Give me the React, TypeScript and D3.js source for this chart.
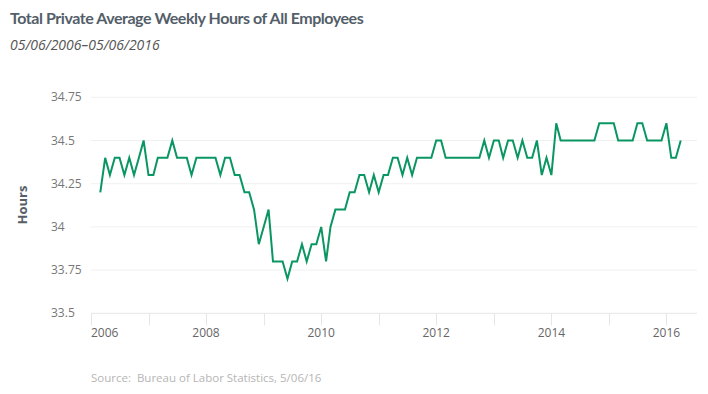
import * as d3 from "d3";

// monthly values, Mar 2006 – Apr 2016
const START = { year: 2006, month: 2 }; // March (0-based)
const hours2006 = [34.2, 34.4, 34.3, 34.4, 34.4, 34.3, 34.4, 34.3, 34.4, 34.5];
const hours2007 = [34.3, 34.3, 34.4, 34.4, 34.4, 34.5, 34.4, 34.4, 34.4, 34.3, 34.4, 34.4];
const hours2008 = [34.4, 34.4, 34.4, 34.3, 34.4, 34.4, 34.3, 34.3, 34.2, 34.2, 34.1, 33.9];
const hours2009 = [34.0, 34.1, 33.8, 33.8, 33.8, 33.7, 33.8, 33.8, 33.9, 33.8, 33.9, 33.9];
const hours2010 = [34.0, 33.8, 34.0, 34.1, 34.1, 34.1, 34.2, 34.2, 34.3, 34.3, 34.2, 34.3];
const hours2011 = [34.2, 34.3, 34.3, 34.4, 34.4, 34.3, 34.4, 34.3, 34.4, 34.4, 34.4, 34.4];
const hours2012 = [34.5, 34.5, 34.4, 34.4, 34.4, 34.4, 34.4, 34.4, 34.4, 34.4, 34.5, 34.4];
const hours2013 = [34.5, 34.5, 34.4, 34.5, 34.5, 34.4, 34.5, 34.4, 34.4, 34.5, 34.3, 34.4];
const hours2014 = [34.3, 34.6, 34.5, 34.5, 34.5, 34.5, 34.5, 34.5, 34.5, 34.5, 34.6, 34.6];
const hours2015 = [34.6, 34.6, 34.5, 34.5, 34.5, 34.5, 34.6, 34.6, 34.5, 34.5, 34.5, 34.5];
const hours2016 = [34.6, 34.4, 34.4, 34.5];

const yTicks = [33.5, 33.75, 34, 34.25, 34.5, 34.75];
const xTickYears = [2006, 2007, 2008, 2009, 2010, 2011, 2012, 2013, 2014, 2015, 2016];
const xLabelYears = [2006, 2008, 2010, 2012, 2014, 2016];

const TITLE = "Total Private Average Weekly Hours of All Employees";
const SUBTITLE = "05/06/2006–05/06/2016";
const SOURCE = "Source:  Bureau of Labor Statistics, 5/06/16";

const W = 708;
const H = 394;
const LINE = "#0a9663";

const allHours = [
  ...hours2006, ...hours2007, ...hours2008, ...hours2009, ...hours2010, ...hours2011,
  ...hours2012, ...hours2013, ...hours2014, ...hours2015, ...hours2016,
];
const data = allHours.map((v, i) => ({ date: new Date(START.year, START.month + i, 1), value: v }));

export default function App() {
  const plotLeft = 91;
  const plotRight = 697;
  const x = d3.scaleTime()
    .domain([new Date(2006, 0, 1), new Date(2016, 0, 1)])
    .range([plotLeft, 666.4]);
  const y = d3.scaleLinear().domain([33.5, 34.75]).range([313.3, 97.3]);

  const line = d3.line<{ date: Date; value: number }>()
    .x(d => x(d.date))
    .y(d => y(d.value));

  const fmt = (v: number) => String(v);
  const baseY = y(33.5);
  const font = "'Open Sans', sans-serif";

  return (
    <div>
      <style>{`body{margin:0}`}</style>
      <svg width={W} height={H} style={{ display: "block", background: "#fff" }}>
        <text x={10} y={24} fontFamily="Lato, sans-serif" fontWeight={700} fontSize={16}
          fill="#535e69" letterSpacing={-0.45}>{TITLE}</text>
        <text x={10} y={50} fontFamily={font} fontStyle="italic" fontSize={14}
          fill="#555">{SUBTITLE}</text>

        {/* grid */}
        {yTicks.map(t => (
          <g key={t}>
            <line x1={plotLeft} x2={plotRight} y1={y(t)} y2={y(t)}
              stroke={t === 33.5 ? "#e6e6e6" : "#f0f0f0"} strokeWidth={1} />
            <text x={51} y={y(t) + 4} fontFamily={font} fontSize={12} fill="#777">{fmt(t)}</text>
          </g>
        ))}

        {/* x axis ticks */}
        {xTickYears.map(yr => {
          const px = Math.round(x(new Date(yr, 0, 1))) + 0.5;
          return <line key={yr} x1={px} x2={px} y1={baseY} y2={baseY + 12} stroke="#e6e6e6" />;
        })}
        {xLabelYears.map((yr, i) => (
          <text key={yr} x={x(new Date(yr, 0, 1))} y={337} fontFamily={font} fontSize={12}
            fill="#666" textAnchor={i === 0 ? "start" : "middle"}>{yr}</text>
        ))}

        <text transform={`translate(27,205) rotate(-90)`} textAnchor="middle" fontFamily={font}
          fontWeight={700} fontSize={13} fill="#555e69">Hours</text>

        <path d={line(data) ?? ""} fill="none" stroke={LINE} strokeWidth={2} strokeLinejoin="miter" />

        <text x={91} y={382} fontFamily={font} fontSize={11.5} fill="#b5b5b5" style={{ whiteSpace: "pre" }}>{SOURCE}</text>
      </svg>
    </div>
  );
}
